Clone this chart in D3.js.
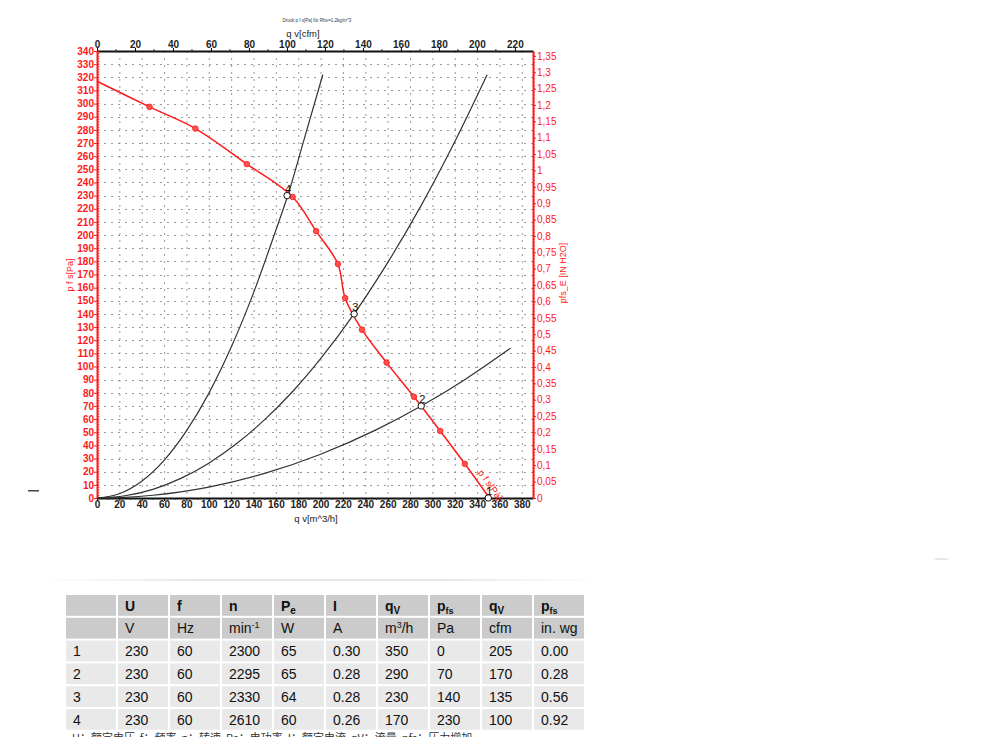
<!DOCTYPE html>
<html><head><meta charset="utf-8">
<script src="https://cdn.jsdelivr.net/npm/d3@7"></script>
<style>body{margin:0;background:#fff}svg{display:block}text{font-family:"Liberation Sans",Arial,sans-serif}</style>
</head><body><svg id="c" width="1000" height="737"></svg>
<script>
// ---- data ----
const fanCurve = [[0,317],[47,297.5],[88,281],[134,254],[175,229],[196,203],[215.5,178],[222,152],[237,128],[259,103],[283.5,77],[307,51],[329,26],[351,0]];
const fanMarkers = [[47,297.5],[88,281],[134,254],[175,229],[196,203],[215.5,178],[222,152],[237,128],[259,103],[283.5,77],[307,51],[329,26]];
const sysCurveA = [[0,0],[20,3.2],[40,12.7],[60,28.6],[80,51],[100,79.6],[120,114.6],[140,156],[160,203.7],[171,231],[185,272],[202,322]];
const sysCurveB = [[0,0],[25,1.7],[50,6.6],[75,14.9],[100,26.5],[125,41.4],[150,59.6],[175,81],[200,106],[230,140],[260,179],[290,222.6],[320,271],[349,322]];
const sysCurveC = [[0,0],[25,0.5],[50,2.1],[75,4.7],[100,8.3],[150,18.7],[200,33.3],[250,52],[290,70],[330,90.6],[370,114]];
const opPoints = [[350,0,"1"],[290,70,"2"],[230,140,"3"],[170,230,"4"]];
const xTicks = d3.range(0,381,20);
const cfmTicks = d3.range(0,221,20);
const yTicks = d3.range(0,341,10);
const inTicks = d3.range(0,1.351,0.05);
const headTop = ["", "U","f","n","P|e","I","q|V","p|fs","q|V","p|fs"];
const headUnit = ["", "V","Hz","min^-1","W","A","m^3/h","Pa","cfm","in. wg"];
const tableRows = [
 ["1","230","60","2300","65","0.30","350","0","205","0.00"],
 ["2","230","60","2295","65","0.28","290","70","170","0.28"],
 ["3","230","60","2330","64","0.28","230","140","135","0.56"],
 ["4","230","60","2610","60","0.26","170","230","100","0.92"]];
const legendText = "U：额定电压  f：频率  n：转速  Pe：电功率  I：额定电流  qV：流量  pfs：压力增加";

// ---- chart ----
const svg = d3.select("#c");
const L=97,R=533,T=51,B=498;
const x = d3.scaleLinear().domain([0,390]).range([L,R]);
const xc = d3.scaleLinear().domain([0,390/1.699]).range([L,R]);
const y = d3.scaleLinear().domain([0,340]).range([B,T]);
const yi = d3.scaleLinear().domain([0,340/249.09]).range([B,T]);
const RED="#ff1a1a";

// grid
const g = svg.append("g").attr("stroke","#9a9a9a").attr("stroke-width",1).attr("stroke-dasharray","2,5");
g.selectAll("line.v").data(xTicks.filter(d=>d>0)).join("line")
 .attr("x1",d=>x(d)+.5).attr("x2",d=>x(d)+.5).attr("y1",T).attr("y2",B);
g.selectAll("line.h").data(yTicks.filter(d=>d>0)).join("line").attr("class","h")
 .attr("y1",d=>Math.round(y(d))+.5).attr("y2",d=>Math.round(y(d))+.5).attr("x1",L).attr("x2",R);

// bottom axis
const ax = svg.append("g").attr("transform",`translate(0,${B})`)
 .call(d3.axisBottom(x).tickValues(xTicks).tickSize(3).tickSizeOuter(0));
ax.select(".domain").attr("stroke","#111").attr("stroke-width",2);
ax.selectAll("text").attr("font-size",10).attr("font-weight","bold").attr("fill","#222").attr("y",3).attr("dy","0.71em");
svg.append("g").selectAll("line").data(d3.range(10,390,20)).join("line")
 .attr("x1",d=>x(d)).attr("x2",d=>x(d)).attr("y1",B).attr("y2",B+2).attr("stroke","#333");
svg.append("text").attr("x",316).attr("y",522).attr("text-anchor","middle").attr("font-size",9.5).attr("fill","#222").text("q v[m^3/h]");

// top axis
const at = svg.append("g").attr("transform",`translate(0,${T})`)
 .call(d3.axisTop(xc).tickValues(cfmTicks).tickSize(3).tickSizeOuter(0));
at.select(".domain").attr("stroke","#111").attr("stroke-width",2);
at.selectAll("text").attr("font-size",10).attr("font-weight","bold").attr("fill","#222").attr("y",-3).attr("dy","0");
svg.append("g").selectAll("line").data(d3.range(10,230,20)).join("line")
 .attr("x1",d=>xc(d)).attr("x2",d=>xc(d)).attr("y1",T).attr("y2",T-2).attr("stroke","#333");
svg.append("text").attr("x",303).attr("y",37).attr("text-anchor","middle").attr("font-size",9.5).attr("fill","#222").text("q v[cfm]");
svg.append("text").attr("x",317).attr("y",22).attr("text-anchor","middle").attr("font-size",4.5).attr("fill","#333").text("Druck p f s[Pa] für Rho=1,2kg/m^3");

// left axis
const al = svg.append("g").attr("transform",`translate(${L},0)`)
 .call(d3.axisLeft(y).tickValues(yTicks).tickSize(3).tickSizeOuter(0));
al.select(".domain").attr("stroke",RED).attr("stroke-width",2);
al.selectAll(".tick line").attr("stroke",RED);
al.selectAll("text").attr("font-size",10).attr("font-weight","bold").attr("fill",RED).attr("x",-3);
svg.append("g").selectAll("line").data(d3.range(0,341,2)).join("line")
 .attr("y1",d=>y(d)).attr("y2",d=>y(d)).attr("x1",L).attr("x2",L+2.5).attr("stroke",RED).attr("stroke-width",0.8);
svg.append("text").attr("transform","translate(73,275) rotate(-90)").attr("text-anchor","middle").attr("font-size",9).attr("fill",RED).text("p f s[Pa]");

// right axis
const ar = svg.append("g").attr("transform",`translate(${R},0)`)
 .call(d3.axisRight(yi).tickValues(inTicks).tickSize(3).tickSizeOuter(0).tickFormat(d=>String(+d.toFixed(2)).replace(".",",")));
ar.select(".domain").attr("stroke",RED).attr("stroke-width",2);
ar.selectAll(".tick line").attr("stroke",RED);
ar.selectAll("text").attr("font-size",10).attr("fill",RED).attr("x",4);
svg.append("g").selectAll("line").data(d3.range(0,1.361,0.01)).join("line")
 .attr("y1",d=>yi(d)).attr("y2",d=>yi(d)).attr("x1",R).attr("x2",R+2).attr("stroke",RED).attr("stroke-width",0.8);
svg.append("text").attr("transform","translate(566,273) rotate(-90)").attr("text-anchor","middle").attr("font-size",9).attr("fill",RED).text("pfs_E [IN H2O]");

// system curves
const line = d3.line().x(d=>x(d[0])).y(d=>y(d[1])).curve(d3.curveMonotoneX);
[sysCurveA,sysCurveB,sysCurveC].forEach(c=>{
 svg.append("path").attr("d",line(c)).attr("fill","none").attr("stroke","#333").attr("stroke-width",1.2);
});
// fan curve
svg.append("path").attr("d",d3.line().x(d=>x(d[0])).y(d=>y(d[1])).curve(d3.curveCatmullRom)(fanCurve))
 .attr("fill","none").attr("stroke",RED).attr("stroke-width",1.5);
svg.append("g").selectAll("circle").data(fanMarkers).join("circle")
 .attr("cx",d=>x(d[0])).attr("cy",d=>y(d[1])).attr("r",2.8).attr("fill","#ff5050").attr("stroke",RED).attr("stroke-width",0.8);
// curve label
const a1=fanCurve[fanCurve.length-2], a2=fanCurve[fanCurve.length-1];
const ang=Math.atan2(y(a2[1])-y(a1[1]),x(a2[0])-x(a1[0]))*180/Math.PI;
svg.append("text").attr("transform",`translate(${x(333)},${y(24)}) rotate(${ang})`).attr("font-size",9.5).attr("fill",RED).attr("dy",-3).attr("dx",10).text("p f s[Pa]");
// operating points
const op = svg.append("g");
op.selectAll("circle").data(opPoints).join("circle")
 .attr("cx",d=>x(d[0])).attr("cy",d=>y(d[1])).attr("r",3.2).attr("fill","#fff").attr("stroke","#111").attr("stroke-width",1);
op.selectAll("text").data(opPoints).join("text")
 .attr("x",d=>x(d[0])-2).attr("y",d=>y(d[1])-3).attr("font-size",11).attr("fill","#111").text(d=>d[2]);

// stray marks
svg.append("rect").attr("x",28).attr("y",490).attr("width",11).attr("height",1.5).attr("fill","#444");
const grad = svg.append("defs").append("linearGradient").attr("id","fade");
grad.append("stop").attr("offset","0").attr("stop-color","#fff");
grad.append("stop").attr("offset","0.3").attr("stop-color","#e6e6e6");
grad.append("stop").attr("offset","0.7").attr("stop-color","#e6e6e6");
grad.append("stop").attr("offset","1").attr("stop-color","#fff");
svg.append("rect").attr("x",40).attr("y",579).attr("width",560).attr("height",2).attr("fill","url(#fade)");
svg.append("rect").attr("x",932).attr("y",558).attr("width",18).attr("height",2).attr("fill","url(#fade)");

// ---- table ----
const TX=66, TY=595, CW=52, RH=22.8;
const allRows=[headTop,headUnit,...tableRows];
const tg=svg.append("g");
allRows.forEach((row,ri)=>{
 row.forEach((cell,ci)=>{
  tg.append("rect").attr("x",TX+ci*CW).attr("y",TY+ri*RH).attr("width",CW-2).attr("height",RH-2)
   .attr("fill",ri<2?"#cbcbcb":"#e9e9e9");
  const t=tg.append("text").attr("x",TX+ci*CW+7).attr("y",TY+ri*RH+15.5).attr("font-size",14).attr("fill","#111")
   .attr("font-weight",ri===0?"bold":"normal");
  if(cell.includes("|")){const [a,b]=cell.split("|");t.append("tspan").text(a);t.append("tspan").attr("font-size",b==="fs"?9:10).attr("dy",3).text(b);}
  else if(cell.includes("^")){const [a,b]=cell.split("^");const m=b.match(/^(-?\d)(.*)$/);
   t.append("tspan").text(a);t.append("tspan").attr("font-size",9).attr("dy",-5).text(m[1]);
   if(m[2])t.append("tspan").attr("dy",5).text(m[2]);}
  else t.text(cell);
 });
});
// legend line (cut off at bottom, as in the reference)
svg.append("text").attr("x",72).attr("y",742).attr("font-size",11).attr("fill","#333")
 .style("font-family","'Noto Sans CJK SC',sans-serif").attr("xml:space","preserve").text(legendText);
</script></body></html>
